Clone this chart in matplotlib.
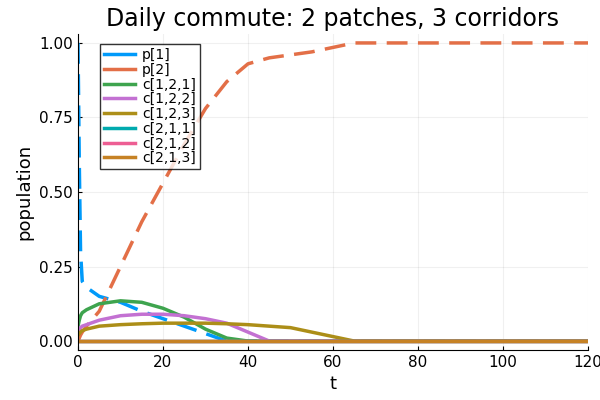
import numpy as np
import matplotlib
matplotlib.use('Agg')
import matplotlib.pyplot as plt

t = [0, 0.3, 0.6, 1, 2, 5, 10, 15, 20, 25, 30, 35, 40, 45, 50, 55, 60, 65, 70, 80, 100, 120]
p1 = [1.0, 0.6, 0.3, 0.2, 0.18, 0.15, 0.13, 0.10, 0.075, 0.05, 0.025, 0.0, 0, 0, 0, 0, 0, 0, 0, 0, 0, 0]
p2 = [0.0, 0.01, 0.02, 0.03, 0.05, 0.10, 0.25, 0.40, 0.53, 0.66, 0.78, 0.87, 0.93, 0.95, 0.96, 0.97, 0.985, 1.0, 1.0, 1.0, 1.0, 1.0]
c121 = [0.05, 0.07, 0.085, 0.095, 0.105, 0.125, 0.135, 0.13, 0.11, 0.08, 0.04, 0.01, 0.0, 0, 0, 0, 0, 0, 0, 0, 0, 0]
c122 = [0.03, 0.04, 0.045, 0.05, 0.055, 0.07, 0.085, 0.09, 0.09, 0.085, 0.075, 0.06, 0.03, 0.0, 0, 0, 0, 0, 0, 0, 0, 0]
c123 = [0.02, 0.025, 0.03, 0.035, 0.04, 0.05, 0.055, 0.058, 0.06, 0.06, 0.06, 0.058, 0.055, 0.05, 0.045, 0.03, 0.015, 0.0, 0, 0, 0, 0]
zeros = [0.0] * len(t)

series = [("p[1]", p1, "#009AFA", "--"), ("p[2]", p2, "#E36F47", "--"),
          ("c[1,2,1]", c121, "#3EA44E", "-"), ("c[1,2,2]", c122, "#C371D2", "-"),
          ("c[1,2,3]", c123, "#AC8E18", "-"), ("c[2,1,1]", zeros, "#00AAAE", "-"),
          ("c[2,1,2]", zeros, "#ED5E93", "-"), ("c[2,1,3]", zeros, "#C68225", "-")]

fig = plt.figure(figsize=(6, 4), dpi=100)
ax = fig.add_axes([0.13, 0.125, 0.85, 0.79])
for name, y, col, ls in series:
    ax.plot(t, y, ls, color=col, lw=2.5, label=name, dashes=(6, 3) if ls == "--" else (None, None))

ax.set_xlim(0, 120)
ax.set_ylim(-0.03, 1.03)
ax.set_xticks([0, 20, 40, 60, 80, 100, 120])
ax.set_yticks([0, 0.25, 0.5, 0.75, 1.0])
ax.set_yticklabels(["0.00", "0.25", "0.50", "0.75", "1.00"])
ax.grid(True, color="#000000", alpha=0.06, lw=0.8)
for s in ["top", "right"]:
    ax.spines[s].set_visible(False)
ax.tick_params(labelsize=11, direction="in", length=3)
ax.set_xlabel("t", fontsize=13)
ax.set_ylabel("population", fontsize=13)
ax.set_title("Daily commute: 2 patches, 3 corridors", fontsize=17)
leg = ax.legend(loc="upper left", bbox_to_anchor=(0.03, 0.99), fontsize=10, frameon=True,
                fancybox=False, edgecolor="black", handlelength=2.2, labelspacing=0.05,
                borderpad=0.3, handletextpad=0.5)
for line in leg.get_lines():
    line.set_linestyle("-")
fig.savefig("out.png")
